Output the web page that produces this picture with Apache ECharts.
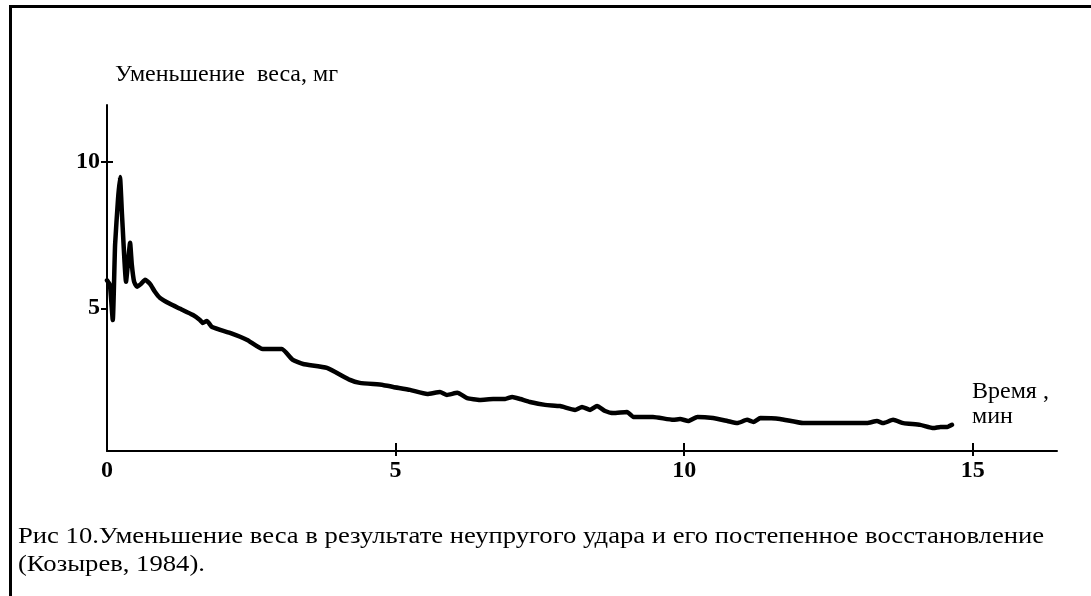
<!DOCTYPE html>
<html>
<head>
<meta charset="utf-8">
<script src="https://cdn.jsdelivr.net/npm/echarts@6/dist/echarts.min.js"></script>
<style>
html,body{margin:0;padding:0;background:#fff;}
#chart{width:1091px;height:596px;}
</style>
</head>
<body>
<div id="chart"></div>
<script>
// Time, min
const timeMin = [0, 0.05, 0.10, 0.14, 0.19, 0.225, 0.26, 0.33, 0.36, 0.40, 0.43, 0.47, 0.52, 0.59, 0.66, 0.745, 0.83, 0.92, 1.09, 1.27, 1.49, 1.61, 1.66, 1.73, 1.82, 2.13, 2.43, 2.70, 3.03, 3.22, 3.40, 3.81, 4.21, 4.38, 4.78, 4.96, 5.25, 5.55, 5.77, 5.89, 6.07, 6.24, 6.46, 6.69, 6.90, 7.02, 7.16, 7.33, 7.59, 7.85, 8.11, 8.23, 8.37, 8.49, 8.63, 8.77, 9.01, 9.12, 9.46, 9.81, 9.93, 10.07, 10.23, 10.50, 10.75, 10.92, 11.09, 11.20, 11.32, 11.66, 12.06, 12.58, 13.17, 13.34, 13.45, 13.62, 13.80, 14.09, 14.32, 14.44, 14.56, 14.64];
// Weight decrease, mg
const weightLoss = [5.95, 5.79, 4.6, 7.16, 8.69, 9.47, 8.18, 5.9, 6.48, 7.23, 6.48, 5.9, 5.73, 5.83, 5.97, 5.83, 5.56, 5.35, 5.15, 4.98, 4.77, 4.6, 4.5, 4.57, 4.36, 4.16, 3.92, 3.61, 3.61, 3.24, 3.10, 2.97, 2.56, 2.46, 2.39, 2.32, 2.22, 2.08, 2.15, 2.05, 2.12, 1.94, 1.88, 1.91, 1.91, 1.98, 1.91, 1.81, 1.71, 1.67, 1.54, 1.64, 1.54, 1.67, 1.50, 1.43, 1.47, 1.30, 1.30, 1.20, 1.23, 1.16, 1.30, 1.26, 1.16, 1.09, 1.20, 1.13, 1.26, 1.23, 1.09, 1.09, 1.09, 1.16, 1.09, 1.20, 1.09, 1.03, 0.92, 0.96, 0.96, 1.03];
const xTickValues = [5, 10, 15];
const xLabelValues = [0, 5, 10, 15];
const yTickValues = [5, 10];
const yTitle = 'Уменьшение  веса, мг';
const xTitle = ['Время ,', 'мин'];
const captionLines = ['Рис 10.Уменьшение веса в результате неупругого удара и его постепенное восстановление', '(Козырев, 1984).'];

const FONT = '"Liberation Serif", "DejaVu Serif", serif';
const chart = echarts.init(document.getElementById('chart'));

const xCommon = {type: 'value', min: 0, max: 16.46, splitLine: {show: false}};
const yCommon = {type: 'value', min: 0.14, max: 11.92, splitLine: {show: false}};

const option = {
  backgroundColor: '#ffffff',
  animation: false,
  grid: {left: 107, right: 34, top: 105, bottom: 145, containLabel: false},
  xAxis: [
    Object.assign({}, xCommon, {
      position: 'bottom',
      axisLine: {show: true, onZero: false, lineStyle: {color: '#000', width: 2}},
      axisTick: {show: true, inside: false, length: 5, customValues: xTickValues, lineStyle: {color: '#000', width: 2}},
      axisLabel: {show: true, customValues: xLabelValues, margin: 8, color: '#000', fontFamily: FONT, fontWeight: 'bold', fontSize: 24}
    }),
    Object.assign({}, xCommon, {
      position: 'bottom',
      axisLine: {show: false, onZero: false},
      axisTick: {show: true, inside: true, length: 8, customValues: xTickValues, lineStyle: {color: '#000', width: 2}},
      axisLabel: {show: false}
    })
  ],
  yAxis: [
    Object.assign({}, yCommon, {
      position: 'left',
      axisLine: {show: true, onZero: false, lineStyle: {color: '#000', width: 2}},
      axisTick: {show: true, inside: false, length: 6, customValues: yTickValues, lineStyle: {color: '#000', width: 2}},
      axisLabel: {show: true, customValues: yTickValues, margin: 7, color: '#000', fontFamily: FONT, fontWeight: 'bold', fontSize: 24}
    }),
    Object.assign({}, yCommon, {
      position: 'left',
      axisLine: {show: false, onZero: false},
      axisTick: {show: true, inside: true, length: 6, customValues: [10], lineStyle: {color: '#000', width: 2}},
      axisLabel: {show: false}
    })
  ],
  series: [{
    type: 'line',
    xAxisIndex: 0,
    yAxisIndex: 0,
    data: timeMin.map((t, i) => [t, weightLoss[i]]),
    showSymbol: false,
    smooth: 0.15,
    lineStyle: {color: '#000', width: 4.5, cap: 'round', join: 'round'},
    clip: false
  }],
  graphic: [
    {type: 'rect', shape: {x: 9, y: 5, width: 1082, height: 3}, style: {fill: '#000'}, silent: true},
    {type: 'rect', shape: {x: 9, y: 5, width: 3, height: 591}, style: {fill: '#000'}, silent: true},
    {type: 'text', left: 115, top: 63, style: {text: yTitle, fill: '#000', font: '24px ' + FONT}},
    {type: 'text', left: 972, top: 380, style: {text: xTitle[0], fill: '#000', font: '24px ' + FONT}},
    {type: 'text', left: 972, top: 405, style: {text: xTitle[1], fill: '#000', font: '24px ' + FONT}},
    {type: 'text', x: 18, y: 525, scaleX: 1.11, style: {text: captionLines[0], fill: '#000', font: '24px ' + FONT}},
    {type: 'text', x: 18, y: 553, scaleX: 1.11, style: {text: captionLines[1], fill: '#000', font: '24px ' + FONT}}
  ]
};
chart.setOption(option);
</script>
</body>
</html>
